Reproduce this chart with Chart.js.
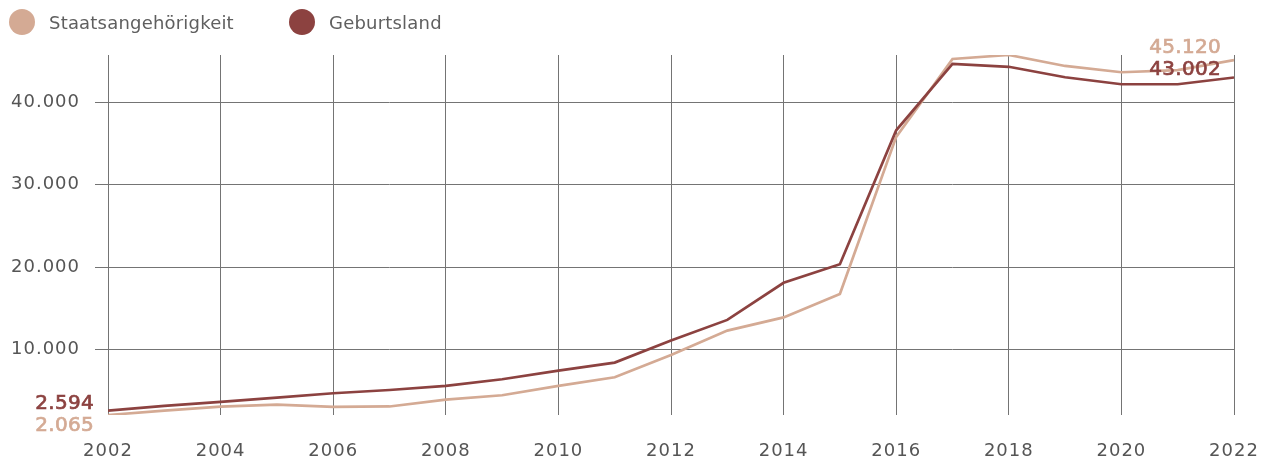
<!DOCTYPE html>
<html lang="de">
<head>
<meta charset="utf-8">
<script src="https://cdn.jsdelivr.net/npm/chart.js@4.4.1/dist/chart.umd.min.js"></script>
<style>
  body { margin: 0; background: #fff; font-family: "DejaVu Sans", sans-serif; }
  #wrap { position: relative; width: 1272px; height: 461px; }
  .legend { position: absolute; top: 9px; left: 0; height: 26px; }
  .item { position: absolute; top: 0; height: 26px; display: flex; align-items: center; white-space: nowrap; }
  .dot { width: 26px; height: 26px; border-radius: 50%; margin-right: 14px; }
  .item span { font-size: 18px; color: #5f5f5f; letter-spacing: 0.2px; }
</style>
</head>
<body>
<div id="wrap">
  <div class="legend">
    <div class="item" style="left:9px"><div class="dot" style="background:#d4aa94"></div><span>Staatsangehörigkeit</span></div>
    <div class="item" style="left:289px"><div class="dot" style="background:#8c4240"></div><span>Geburtsland</span></div>
  </div>
  <canvas id="chart"></canvas>
</div>
<script>
/* DATA */
const years = [2002, 2003, 2004, 2005, 2006, 2007, 2008, 2009, 2010, 2011, 2012,
               2013, 2014, 2015, 2016, 2017, 2018, 2019, 2020, 2021, 2022];
const staatsangehoerigkeit = [2065, 2600, 3080, 3330, 3040, 3100, 3930, 4460, 5590, 6640, 9350,
                              12300, 13900, 16750, 35800, 45250, 45730, 44400, 43640, 43900, 45120];
const geburtsland = [2594, 3170, 3650, 4170, 4700, 5100, 5600, 6400, 7450, 8420, 11090,
                     13600, 18100, 20350, 36600, 44650, 44300, 43030, 42180, 42180, 43002];
const yTicks = [10000, 20000, 30000, 40000];

const TAN = "#d4aa94";
const RED = "#8c4240";
const GRID = "#747474";
const TEXT = "#555555";

/* german thousands separator */
function fmt(v) {
    return String(v).replace(/\B(?=(\d{3})+(?!\d))/g, ".");
}

const allValues = staatsangehoerigkeit.concat(geburtsland);

/* letter spacing for canvas text */
const spacingPlugin = {
    id: "spacing",
    beforeUpdate(chart) { chart.ctx.letterSpacing = "1px"; },
    beforeDraw(chart) { chart.ctx.letterSpacing = "1px"; }
};

/* value labels at the start and end of each line */
const endLabels = {
    id: "endLabels",
    afterDatasetsDraw(chart) {
        const ctx = chart.ctx;
        const x = chart.scales.x, y = chart.scales.y;
        const last = years.length - 1;
        ctx.save();
        ctx.font = "20px 'DejaVu Sans'";
        ctx.letterSpacing = "0.3px";
        ctx.lineWidth = 0.7;
        ctx.textAlign = "right";
        ctx.textBaseline = "middle";
        const x0 = x.getPixelForValue(years[0]) - 14;
        const x1 = x.getPixelForValue(years[last]) - 13;

        const put = (txt, px, py, col) => {
            ctx.fillStyle = col;
            ctx.strokeStyle = col;
            ctx.fillText(txt, px, py);
            ctx.strokeText(txt, px, py);
        };
        put(fmt(geburtsland[0]), x0, y.getPixelForValue(geburtsland[0]) - 7, RED);
        put(fmt(staatsangehoerigkeit[0]), x0, y.getPixelForValue(staatsangehoerigkeit[0]) + 11, TAN);
        put(fmt(staatsangehoerigkeit[last]), x1, y.getPixelForValue(staatsangehoerigkeit[last]) - 12, TAN);
        put(fmt(geburtsland[last]), x1, y.getPixelForValue(geburtsland[last]) - 8, RED);
        ctx.restore();
    }
};

const chart = new Chart(document.getElementById("chart"), {
    type: "line",
    data: {
        datasets: [{
            label: "Staatsangehörigkeit",
            data: years.map((yr, i) => ({ x: yr, y: staatsangehoerigkeit[i] })),
            borderColor: TAN,
            borderWidth: 2.7,
            pointRadius: 0,
            tension: 0,
            order: 2
        }, {
            label: "Geburtsland",
            data: years.map((yr, i) => ({ x: yr, y: geburtsland[i] })),
            borderColor: RED,
            borderWidth: 2.7,
            pointRadius: 0,
            tension: 0,
            order: 1
        }]
    },
    options: {
        responsive: true,
        maintainAspectRatio: false,
        animation: false,
        layout: { padding: { top: 55, right: 38, left: 0, bottom: 0 } },
        plugins: {
            legend: { display: false },
            tooltip: { enabled: false }
        },
        scales: {
            x: {
                type: "linear",
                min: years[0],
                max: years[years.length - 1],
                afterFit: (s) => { s.height = 46; s.paddingLeft = 0; s.paddingRight = 0; },
                border: { display: false },
                grid: { color: GRID, lineWidth: 1, drawTicks: false },
                ticks: {
                    stepSize: 2,
                    padding: 26,
                    color: TEXT,
                    font: { family: "DejaVu Sans", size: 18 },
                    maxRotation: 0,
                    callback: (v) => String(v)
                }
            },
            y: {
                min: Math.min(...allValues),
                max: Math.max(...allValues),
                afterFit: (s) => { s.width = 108; s.paddingTop = 0; s.paddingBottom = 0; },
                afterBuildTicks: (s) => { s.ticks = yTicks.map(v => ({ value: v })); },
                border: { display: false },
                grid: { color: GRID, lineWidth: 1, drawTicks: true, tickLength: 13 },
                ticks: {
                    padding: 15,
                    color: TEXT,
                    font: { family: "DejaVu Sans", size: 18 },
                    callback: (v) => fmt(v)
                }
            }
        }
    },
    plugins: [spacingPlugin, endLabels]
});
</script>
</body>
</html>
